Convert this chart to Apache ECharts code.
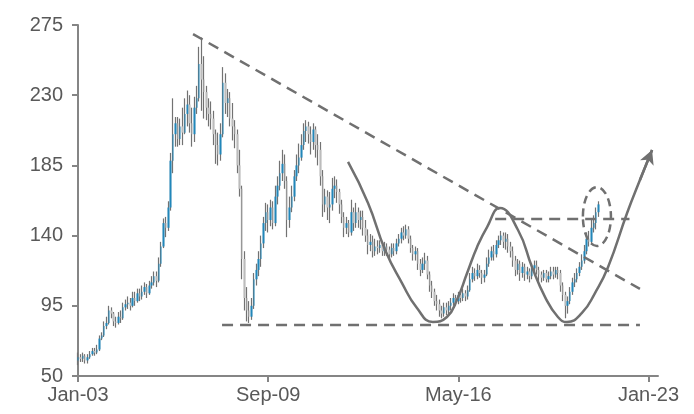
<!DOCTYPE html>
<html>
<head>
<meta charset="utf-8">
<script src="https://cdn.jsdelivr.net/npm/echarts@6/dist/echarts.min.js"></script>
<style>
  html, body { margin: 0; padding: 0; background: #ffffff; }
  #chart { width: 694px; height: 414px; }
</style>
</head>
<body>
<div id="chart"></div>
<script>
// Monthly price bars, Jan-03 onwards (open / close / low / high)
const opens = [
  60,62,61,63,60,62,64,66,65,67,74,76,
  82,84,92,90,85,84,88,87,94,96,97,95,
  100,98,103,101,104,107,103,108,110,114,111,122,
  133,148,145,158,188,205,212,202,210,206,218,224,
  212,205,222,228,250,240,232,222,218,215,205,198,
  192,205,238,225,228,215,210,205,185,170,125,100,
  92,88,95,112,118,125,135,148,155,150,158,148,
  165,172,180,186,175,150,158,165,178,185,190,198,
  207,210,205,200,208,198,195,178,160,165,158,160,
  170,172,168,160,152,145,148,142,155,148,155,150,
  152,145,140,134,136,130,133,132,134,130,133,131,
  128,132,130,135,138,142,140,144,138,132,128,130,
  122,118,122,124,115,108,104,98,96,92,90,94,
  92,95,97,100,98,102,100,103,101,105,112,116,
  114,118,116,113,115,122,126,130,128,134,137,140,
  136,138,133,130,124,118,122,116,120,115,117,114,
  119,121,118,115,113,116,112,114,117,115,118,116,
  108,102,95,98,104,110,112,116,120,124,130,138,
  136,145,148,155
];
const closes = [
  62,61,63,60,62,64,66,65,67,74,76,82,
  84,92,90,85,84,88,87,94,96,97,95,100,
  98,103,101,104,107,103,108,110,114,111,122,133,
  148,145,158,188,205,212,202,210,206,218,224,212,
  205,222,228,250,240,232,222,218,215,205,198,192,
  205,238,225,228,215,210,205,185,170,125,100,92,
  88,95,112,118,125,135,148,155,150,158,148,165,
  172,180,186,175,150,158,165,178,185,190,198,207,
  210,205,200,208,198,195,178,160,165,158,160,170,
  172,168,160,152,145,148,142,155,148,155,150,152,
  145,140,134,136,130,133,132,134,130,133,131,128,
  132,130,135,138,142,140,144,138,132,128,130,122,
  118,122,124,115,108,104,98,96,92,90,94,92,
  95,97,100,98,102,100,103,101,105,112,116,114,
  118,116,113,115,122,126,130,128,134,137,140,136,
  138,133,130,124,118,122,116,120,115,117,114,119,
  121,118,115,113,116,112,114,117,115,118,116,108,
  102,95,98,104,110,112,116,120,124,130,138,136,
  145,148,155,160
];
const lows = [
  57,59,59,58,58,61,63,63,64,66,73,75,
  80,83,87,82,81,83,84,86,92,93,92,94,
  95,97,98,99,102,100,102,106,108,107,110,120,
  132,139,143,156,180,197,197,198,198,205,210,206,
  197,200,218,226,220,215,214,210,208,198,186,185,
  188,203,218,216,210,201,196,180,165,112,92,85,
  84,86,93,108,114,120,132,143,142,146,144,146,
  160,169,175,170,139,145,155,162,175,180,188,195,
  200,199,192,195,190,185,172,152,155,150,148,156,
  164,161,154,148,139,141,139,140,143,145,145,144,
  140,136,128,130,126,127,128,129,127,127,127,125,
  126,127,128,133,135,137,138,135,129,124,124,118,
  114,116,118,112,104,100,95,92,88,87,88,89,
  89,92,95,95,96,97,98,98,99,104,110,111,
  112,113,109,110,114,120,124,124,126,132,134,132,
  131,129,126,120,114,115,111,113,111,112,110,112,
  116,115,111,110,111,110,110,112,112,113,112,104,
  98,87,90,96,102,107,110,114,118,122,128,133,
  134,142,144,152
];
const highs = [
  65,64,65,64,64,66,68,68,70,76,78,85,
  88,95,94,91,88,91,92,97,99,101,100,104,
  104,106,106,108,110,109,111,114,117,117,126,136,
  151,152,162,193,228,216,216,215,222,228,233,230,
  222,229,236,261,267,255,236,228,226,220,208,206,
  212,248,244,234,232,225,214,208,195,172,130,107,
  98,100,116,122,130,140,152,161,160,163,162,172,
  178,188,195,192,178,165,172,182,192,199,205,212,
  214,213,210,212,210,205,200,182,170,169,168,177,
  178,176,170,163,155,152,150,163,158,161,158,156,
  156,150,144,141,140,138,137,137,136,136,135,133,
  135,135,138,141,145,146,147,146,140,134,133,132,
  125,126,129,127,117,111,106,102,99,95,97,97,
  98,100,103,102,104,105,106,105,108,116,120,119,
  122,121,118,118,126,131,133,134,137,140,143,142,
  142,141,136,133,127,125,124,123,122,120,119,122,
  124,124,120,117,118,118,117,120,120,120,120,118,
  110,104,101,107,113,116,119,123,128,134,142,143,
  150,153,158,162
];

// Y-axis scale
const yMin = 50, yMax = 275, yStep = 45;

// Monthly category labels Jan-03 .. May-23 (245 months)
const monthNames = ['Jan','Feb','Mar','Apr','May','Jun','Jul','Aug','Sep','Oct','Nov','Dec'];
const categories = [];
for (let k = 0; k < 245; k++) {
  const yr = 2003 + Math.floor(k / 12);
  categories.push(monthNames[k % 12] + '-' + String(yr % 100).padStart(2, '0'));
}

// Annotation geometry in data space (x = month index, y = price)
const trendLine = [[48.4, 269.2], [236.4, 105.8]];
const supportLine = [[60.6, 82.7], [236.4, 82.7]];
const necklineLine = [[175.5, 150.6], [232, 150.6]];
const wCurveX = [113.6,122,129.2,136.3,142.6,149.3,155.2,159.4,163.7,167.9,172.1,177.5,185.1,191,196.5,201.9,205.7,212,217.5,223,231,236.4,241.5];
const wCurveY = [187.2,160.9,130.8,109.6,93.6,84.6,87.8,98.7,116,132.7,145.5,157.7,143.6,119.9,100.6,87.8,84.6,90.4,103.2,119.9,154.5,175.6,194.9];
const breakoutOval = [218.3, 152.2, 5.9, 18.9]; // centre x, centre y, radius x, radius y

const ink = '#707070';
const axisInk = '#858585';
const labelFont = { color: '#595959', fontSize: 20, fontFamily: 'Liberation Sans, Arial, sans-serif' };
const wickData = lows.map((l, i) => [l, l, l, highs[i]]);
const bodyData = opens.map((o, i) => [o, closes[i], Math.min(o, closes[i]), Math.max(o, closes[i])]);
const wCurve = wCurveX.map((x, i) => [x, wCurveY[i]]);
const nW = wCurve.length;

const chart = echarts.init(document.getElementById('chart'), null, { renderer: 'canvas' });
chart.setOption({
  animation: false,
  backgroundColor: '#ffffff',
  grid: { left: 78, right: 36, top: 25, bottom: 38, containLabel: false },
  xAxis: [{
    type: 'category',
    data: categories,
    boundaryGap: false,
    axisLine: { lineStyle: { color: axisInk, width: 2 } },
    axisTick: { interval: 79, length: 6, lineStyle: { color: axisInk, width: 2 } },
    axisLabel: Object.assign({ interval: 79, margin: 9 }, labelFont),
    splitLine: { show: false }
  }, {
    type: 'value', min: 0, max: 244, show: false
  }],
  yAxis: {
    type: 'value',
    min: yMin, max: yMax, interval: yStep,
    axisLine: { show: true, lineStyle: { color: axisInk, width: 2 } },
    axisTick: { show: true, length: 6, lineStyle: { color: axisInk, width: 2 } },
    axisLabel: Object.assign({ margin: 15 }, labelFont),
    splitLine: { show: false }
  },
  series: [
    {
      name: 'range', type: 'candlestick', data: wickData, barWidth: 1,
      itemStyle: { color: '#727272', color0: '#727272', borderColor: '#727272', borderColor0: '#727272', borderWidth: 1.2 },
      z: 2
    },
    {
      name: 'body', type: 'candlestick', data: bodyData, barWidth: 2,
      itemStyle: { color: '#2187ba', color0: '#bcbcbc', borderColor: '#2187ba', borderColor0: '#bcbcbc', borderWidth: 0 },
      z: 3
    },
    {
      name: 'trend', type: 'line', xAxisIndex: 1, data: trendLine, symbol: 'none', z: 5,
      lineStyle: { color: ink, width: 2.5, type: [11, 7] }
    },
    {
      name: 'support', type: 'line', xAxisIndex: 1, data: supportLine, symbol: 'none', z: 5,
      lineStyle: { color: ink, width: 2.5, type: [11, 7] }
    },
    {
      name: 'neckline', type: 'line', xAxisIndex: 1, data: necklineLine, symbol: 'none', z: 5,
      lineStyle: { color: ink, width: 2.5, type: [11, 7] }
    },
    {
      name: 'pattern', type: 'line', xAxisIndex: 1, data: wCurve, symbol: 'none', smooth: 0.5, z: 5,
      lineStyle: { color: ink, width: 2.5 },
      markLine: {
        silent: true, symbol: ['none', 'arrow'], symbolSize: [11, 14], animation: false,
        lineStyle: { color: ink, width: 2.5, type: 'solid' },
        label: { show: false },
        data: [[{ coord: wCurve[nW - 2] }, { coord: wCurve[nW - 1] }]]
      }
    },
    {
      name: 'oval', type: 'custom', xAxisIndex: 1, data: [breakoutOval], z: 6,
      encode: { x: 0, y: 1 },
      renderItem: function (params, api) {
        const c = api.coord([api.value(0), api.value(1)]);
        const s = api.size([api.value(2), api.value(3)]);
        return {
          type: 'ellipse',
          shape: { cx: c[0], cy: c[1], rx: s[0], ry: s[1] },
          style: { fill: null, stroke: ink, lineWidth: 2.5, lineDash: [8, 5] }
        };
      }
    }
  ]
});
</script>
</body>
</html>
